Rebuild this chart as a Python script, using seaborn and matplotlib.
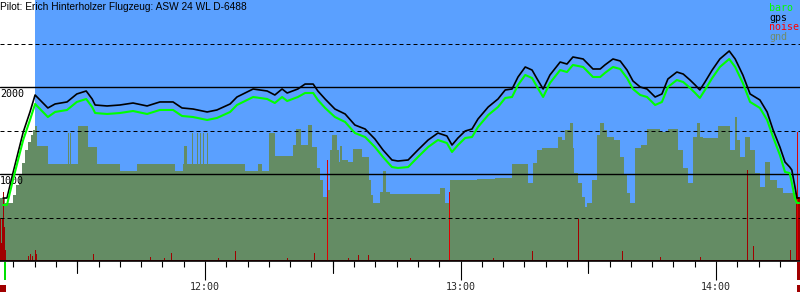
import matplotlib
matplotlib.use("Agg")
import numpy as np
import pandas as pd
import matplotlib.pyplot as plt
import seaborn as sns
from matplotlib.transforms import blended_transform_factory
from matplotlib.patches import Rectangle

sns.set_theme(style="white")
plt.rcParams['font.family'] = ['DejaVu Sans Mono']

title = "Pilot: Erich Hinterholzer Flugzeug: ASW 24 WL D-6488"
series_names = ["baro", "gps", "noise", "gnd"]

# time in minutes after midnight
baro_t = [672.6, 673.5, 674.9, 677.3, 678.9, 680.1, 683.1, 684.8, 687.6, 689.9,
          692.1, 693.5, 694.2, 697.0, 700.0, 703.1, 706.4, 709.4, 712.5, 714.6,
          717.2, 720.5, 722.8, 725.9, 727.5, 731.3, 734.6, 736.4, 738.1, 739.3,
          741.8, 743.5, 745.4, 746.5, 748.2, 750.5, 752.9, 755.2, 757.6, 759.9,
          761.8, 763.9, 765.3, 767.7, 770.0, 772.4, 774.7, 776.8, 778.0, 779.4,
          781.1, 782.7, 784.1, 786.5, 788.8, 790.5, 792.1, 793.5, 795.2, 796.8,
          798.0, 799.4, 801.0, 803.4, 805.0, 806.4, 808.8, 811.1, 812.8, 813.9,
          815.8, 817.5, 819.1, 820.5, 822.2, 823.8, 825.7, 827.3, 828.7, 830.8,
          832.3, 833.9, 835.1, 836.2, 837.4, 839.1, 840.9, 843.1, 844.5, 846.3,
          848.0, 850.3, 852.0, 853.4, 855.0, 856.2, 857.3, 857.8, 858.5, 859.0,
          859.5]
baro_alt = [644, 644, 931, 1391, 1621, 1805, 1655, 1713, 1736, 1828,
            1862, 1770, 1701, 1690, 1701, 1724, 1690, 1736, 1736, 1667,
            1655, 1621, 1644, 1713, 1793, 1885, 1862, 1816, 1885, 1839,
            1885, 1931, 1931, 1851, 1759, 1655, 1598, 1471, 1425, 1310,
            1195, 1080, 1069, 1080, 1195, 1310, 1391, 1356, 1253, 1333,
            1414, 1425, 1540, 1678, 1770, 1874, 1885, 2023, 2138, 2103,
            2000, 1885, 2046, 2195, 2172, 2253, 2230, 2115, 2115, 2161,
            2230, 2207, 2103, 1977, 1908, 1885, 1793, 1828, 2000, 2080,
            2057, 1989, 1931, 1874, 1966, 2103, 2230, 2322, 2230, 2046,
            1828, 1759, 1621, 1425, 1218, 1023, 1011, 897, 724, 667,
            667]
gps_alt = [724, 724, 1011, 1480, 1713, 1908, 1759, 1805, 1828, 1920,
           1954, 1862, 1793, 1782, 1793, 1816, 1782, 1828, 1828, 1759,
           1747, 1713, 1736, 1805, 1885, 1977, 1954, 1908, 1977, 1931,
           1977, 2034, 2034, 1954, 1862, 1747, 1690, 1563, 1517, 1402,
           1276, 1161, 1149, 1161, 1276, 1391, 1471, 1437, 1333, 1414,
           1494, 1517, 1632, 1770, 1862, 1966, 1977, 2115, 2230, 2195,
           2092, 1977, 2138, 2287, 2264, 2345, 2322, 2207, 2207, 2253,
           2322, 2299, 2195, 2069, 2000, 1977, 1885, 1920, 2092, 2172,
           2149, 2080, 2023, 1966, 2057, 2195, 2322, 2414, 2322, 2138,
           1920, 1851, 1713, 1506, 1310, 1138, 1080, 1046, 862, 724,
           724]

gnd_t = [671.86, 673.03, 674.91, 675.62, 676.32, 677.03, 677.73, 678.43, 679.14, 679.61,
         680.08, 680.55, 683.13, 687.83, 688.06, 688.30, 688.53, 690.18, 692.52, 694.64,
         700.04, 704.03, 712.95, 714.83, 715.07, 715.77, 716.95, 717.18, 718.12, 718.36,
         718.83, 719.06, 719.53, 719.77, 720.47, 720.70, 729.39, 732.45, 733.39, 735.03,
         736.44, 740.67, 741.37, 742.54, 744.19, 745.13, 746.30, 747.01, 747.71, 748.65,
         749.35, 749.82, 751.00, 751.47, 751.70, 752.17, 753.58, 754.76, 756.87, 758.51,
         758.98, 759.45, 761.10, 761.80, 762.51, 763.44, 775.19, 776.36, 777.53, 783.87,
         788.10, 792.09, 795.85, 797.03, 797.96, 799.14, 802.90, 803.84, 804.54, 805.71,
         806.42, 806.65, 807.59, 808.53, 809.24, 809.71, 810.88, 812.06, 812.76, 813.70,
         814.40, 816.05, 817.46, 818.40, 819.10, 819.80, 820.98, 822.39, 823.80, 826.85,
         828.73, 831.08, 832.25, 833.42, 834.60, 835.54, 836.24, 836.95, 840.47, 843.29,
         844.46, 844.93, 845.64, 846.81, 847.98, 849.16, 850.33, 851.51, 852.68, 854.33,
         855.73, 859.02, 859.72]
gnd_alt = [724, 667, 759, 874, 989, 1126, 1276, 1368, 1448, 1506,
           1552, 1322, 1115, 1471, 1115, 1471, 1115, 1552, 1310, 1115,
           1034, 1115, 1034, 1115, 1322, 1115, 1471, 1115, 1471, 1115,
           1471, 1115, 1471, 1115, 1471, 1115, 1034, 1115, 1034, 1471,
           1207, 1333, 1517, 1333, 1563, 1310, 1069, 931, 736, 816,
           1276, 1448, 1276, 1138, 1322, 1161, 1138, 1287, 1195, 931,
           759, 667, 793, 1034, 793, 770, 839, 667, 931, 943,
           954, 1115, 897, 1126, 1276, 1299, 1425, 1391, 1506, 1586,
           1299, 1011, 897, 736, 621, 667, 931, 1448, 1586, 1506,
           1425, 1391, 1195, 989, 782, 667, 1299, 1333, 1517, 1483,
           1517, 1276, 1069, 897, 1425, 1586, 1425, 1414, 1552, 1276,
           1655, 1391, 1195, 1425, 1276, 1011, 851, 1138, 931, 839,
           782, 724, 724]

noise_t = [671.86, 672.09, 672.33, 672.56, 672.80, 673.03, 678.43, 678.90, 679.37, 680.08,
           680.32, 693.70, 707.08, 710.37, 712.02, 723.05, 727.05, 739.26, 745.60, 748.65,
           753.58, 755.93, 758.28, 768.14, 777.30, 787.63, 796.79, 807.59, 817.92, 826.85,
           836.24, 847.28, 848.69, 857.38, 858.79, 859.02, 859.26, 859.49]
noise_val = [494, 207, 494, 793, 391, 126, 57, 80, 57, 126,
             80, 80, 46, 34, 92, 34, 115, 34, 92, 1161,
             34, 69, 69, 34, 793, 34, 115, 483, 115, 46,
             46, 1046, 172, 126, 736, 1483, 736, 736]
noise_bright = [False] * 19 + [True] + [False] * 4 + [True] + [False] * 10 + [True] + [False] * 2
noise_floor = 17

release_t = 680.1
takeoff_t = 672.8

x_left, x_right = 671.86, 859.72
y_top = 3000

sky = "#5aa0ff"
ground = "#648c64"
fig = plt.figure(figsize=(8, 3), dpi=100)
ax = fig.add_axes([0, 39 / 300, 1, 261 / 300])
ax.set_facecolor("white")
ax.set_xlim(x_left, x_right)
ax.set_ylim(0, y_top)

ax.axvspan(release_t, x_right, color=sky, lw=0, zorder=0)
ax.fill_between(gnd_t, 0, gnd_alt, step="post", color=ground, lw=0, zorder=1, antialiased=False)

px = (x_right - x_left) / 800
ax.fill_between([noise_t[0], noise_t[-1] + px], 0, noise_floor, color="#a00000", lw=0, zorder=2)
ncol = ["#e00000" if b else "#a00000" for b in noise_bright]
ax.bar(noise_t, noise_val, width=1.2 * px, align="edge", color=ncol, lw=0, zorder=2, antialiased=False)

for v in (1000, 2000):
    ax.axhline(v, color="black", lw=1.0, zorder=3)
for v in (500, 1500, 2500):
    ax.axhline(v, color="black", lw=0.72, ls=(0, (4, 3)), zorder=3)

df = pd.concat([
    pd.DataFrame({"t": baro_t, "alt": gps_alt, "s": "gps"}),
    pd.DataFrame({"t": baro_t, "alt": baro_alt, "s": "baro"}),
])
sns.lineplot(data=df, x="t", y="alt", hue="s", palette={"gps": "black", "baro": "#00ff00"},
             hue_order=["gps", "baro"], estimator=None, sort=False, legend=False, ax=ax, zorder=4)
for ln, w in zip(ax.lines[-2:], (1.2, 1.5)):
    ln.set_linewidth(w)

for s in ax.spines.values():
    s.set_visible(False)
ax.axhline(0, color="black", lw=1.2, zorder=5, clip_on=False)
ax.set_xlabel("")
ax.set_ylabel("")
ax.set_yticks([])
ax.set_xticks([h * 60 for h in (12, 13, 14)])
ax.set_xticklabels([f"{h}:00" for h in (12, 13, 14)], fontsize=7.2)
ax.set_xticks(np.arange(675, 860, 5), minor=True)
ax.tick_params(axis="x", which="major", direction="out", length=13.7, width=0.8, color="black", pad=1.5, bottom=True)
ax.tick_params(axis="x", which="minor", direction="out", length=4.3, width=0.8, color="black", bottom=True)
tr = blended_transform_factory(ax.transData, ax.transAxes)
for m in (690, 750, 810):
    ax.plot([m, m], [0, -12 / 261], color="black", lw=0.8, transform=tr, clip_on=False)

for v in (1000, 2000):
    ax.annotate(str(v), (x_left, v), xytext=(0, -1.5), textcoords="offset points",
                ha="left", va="top", fontsize=7.2, color="black", zorder=3)

ax.add_patch(Rectangle((takeoff_t, -19 / 261), 2 * px, 18 / 261, transform=tr, color="#00e000", clip_on=False, lw=0))
ax.add_patch(Rectangle((x_left, -31 / 261), 6 * px, 7 / 261, transform=tr, color="#a00000", clip_on=False, lw=0))
ax.add_patch(Rectangle((x_right - 2.5 * px, -19 / 261), 2.5 * px, 18 / 261, transform=tr, color="#a00000", clip_on=False, lw=0))
ax.add_patch(Rectangle((x_right - 2.5 * px, -31 / 261), 2.5 * px, 7 / 261, transform=tr, color="#a00000", clip_on=False, lw=0))

fig.text(0, 1 - 6.5 / 300, title, ha="left", va="center", fontsize=7.3,
         family=["Liberation Sans", "DejaVu Sans"], color="#000000")
leg_colors = ["#00ff00", "black", "#ff0000", "#6e8c6e"]
for i, (name, c) in enumerate(zip(series_names, leg_colors)):
    fig.text(769 / 800, 1 - (8 + 9.7 * i) / 300, name, ha="left", va="center", fontsize=7.2, color=c)

fig.savefig("out.png", dpi=100)
